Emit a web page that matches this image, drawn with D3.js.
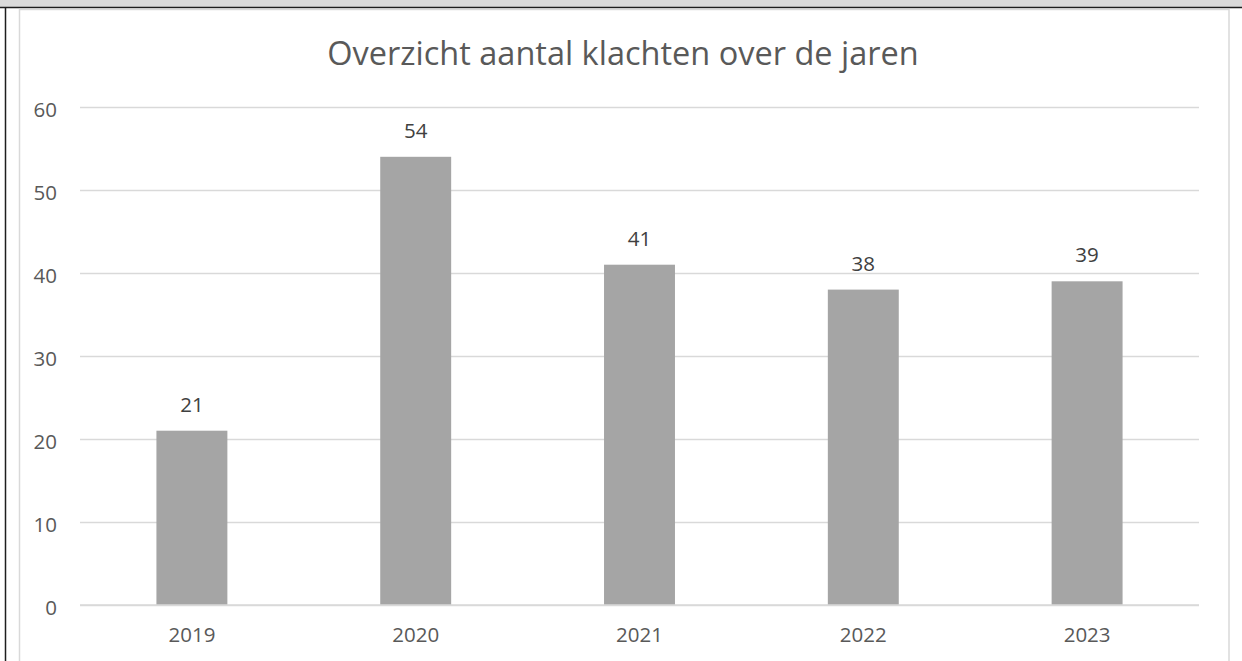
<!DOCTYPE html>
<html>
<head>
<meta charset="utf-8">
<script src="https://cdn.jsdelivr.net/npm/d3@7"></script>
<style>
  body { margin: 0; background: #fff; }
  svg { display: block; font-family: "Open Sans", sans-serif; }
</style>
</head>
<body>
<div class="bar-graph"></div>
<script>
// data
var years = ["2019", "2020", "2021", "2022", "2023"];
var counts = [21, 54, 41, 38, 39];
var yTicks = [0, 10, 20, 30, 40, 50, 60];
var title = "Overzicht aantal klachten over de jaren";

var W = 1242, H = 661;
var margin = {top: 107, right: 43, bottom: 56, left: 80},
    width = 1199 - margin.left,
    height = 605 - margin.top;

var svg = d3.select(".bar-graph").append("svg")
    .attr("width", W)
    .attr("height", H);

// window strip + frame
svg.append("rect")
    .attr("x", 0).attr("y", 0)
    .attr("width", W).attr("height", 7.5)
    .style("fill", "#dadada");
svg.append("line")
    .attr("x1", 0).attr("x2", W)
    .attr("y1", 7.5).attr("y2", 7.5)
    .style("stroke", "#1e1e1e").style("stroke-width", 1.5);
svg.append("line")
    .attr("x1", 5.5).attr("x2", 5.5)
    .attr("y1", 7.5).attr("y2", H)
    .style("stroke", "#1e1e1e").style("stroke-width", 1.5);

// chart area border
svg.append("rect")
    .attr("x", 19.5).attr("y", 9.5)
    .attr("width", 1229 - 19.5).attr("height", H)
    .style("fill", "#fff")
    .style("stroke", "#d9d9d9").style("stroke-width", 1.5);

// title
svg.append("text")
    .attr("x", 623)
    .attr("y", 65)
    .attr("text-anchor", "middle")
    .style("font-size", "32.5px")
    .style("fill", "#595959")
    .text(title);

var g = svg.append("g")
    .attr("transform", "translate(" + margin.left + "," + margin.top + ")");

// scales
var x = d3.scaleBand()
    .domain(years)
    .range([0, width])
    .paddingInner(0.683)
    .paddingOuter(0.3415);
var y = d3.scaleLinear()
    .domain([0, 60])
    .range([height, 0]);

// gridlines
g.append("g")
    .attr("class", "grid")
    .call(d3.axisLeft(y).tickValues(yTicks).tickSize(-width).tickFormat(""))
    .call(function (s) { s.select(".domain").remove(); })
    .selectAll("line")
    .style("stroke", "#d9d9d9")
    .style("stroke-width", 1.5);

// y axis labels
var yAxis = g.append("g")
    .call(d3.axisLeft(y).tickValues(yTicks).tickSize(0).tickPadding(23));
yAxis.select(".domain").remove();
yAxis.selectAll("text")
    .attr("dy", "0.62em")
    .attr("y", -3)
    .style("font-size", "20.5px")
    .style("font-family", "Open Sans, sans-serif")
    .style("fill", "#595959");

// bars
g.selectAll(".bar")
    .data(counts)
    .enter().append("rect")
    .attr("class", "bar")
    .attr("x", function (d, i) { return x(years[i]); })
    .attr("width", x.bandwidth())
    .attr("y", function (d) { return y(d); })
    .attr("height", function (d) { return height - y(d); })
    .style("fill", "#a5a5a5");

// x axis line on top of bars
g.append("line")
    .attr("x1", 0).attr("x2", width)
    .attr("y1", height).attr("y2", height)
    .style("stroke", "#d9d9d9")
    .style("stroke-width", 1.5);

// x axis labels
var xAxis = g.append("g")
    .attr("transform", "translate(0," + height + ")")
    .call(d3.axisBottom(x).tickSize(0).tickPadding(22));
xAxis.select(".domain").remove();
xAxis.selectAll("text")
    .style("font-size", "20.5px")
    .style("font-family", "Open Sans, sans-serif")
    .style("fill", "#595959");

// data labels
g.selectAll(".label")
    .data(counts)
    .enter().append("text")
    .attr("class", "label")
    .attr("x", function (d, i) { return x(years[i]) + x.bandwidth() / 2; })
    .attr("y", function (d) { return y(d) - 19; })
    .attr("text-anchor", "middle")
    .style("font-size", "20.5px")
    .style("fill", "#404040")
    .text(function (d) { return d; });
</script>
</body>
</html>
